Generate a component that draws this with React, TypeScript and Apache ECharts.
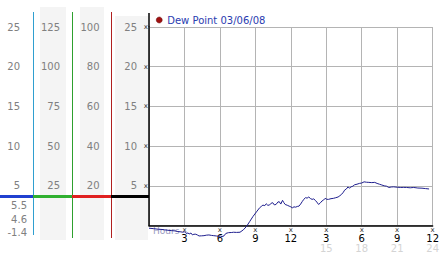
import React, { useEffect, useRef } from 'react';
import * as echarts from 'echarts';

const seriesName = 'Dew Point 03/06/08';

const hours = [
  0, 0.4, 0.78, 1.1, 1.33, 1.6, 1.88, 2.2, 2.44, 2.7, 2.85, 3.0, 3.13, 3.3, 3.4, 3.55, 3.68, 3.8, 3.96, 4.1,
  4.24, 4.45, 4.65, 4.85, 5.07, 5.3, 5.48, 5.7, 5.9, 6.05, 6.18, 6.35, 6.5, 6.73, 7.0, 7.15, 7.4, 7.7, 7.98, 8.25,
  8.53, 8.81, 9.09, 9.36, 9.5, 9.64, 9.8, 9.92, 10.05, 10.19, 10.33, 10.47, 10.6, 10.75, 10.9, 11.02, 11.15, 11.3, 11.4, 11.52,
  11.7, 11.86, 12.0, 12.13, 12.27, 12.41, 12.55, 12.69, 12.83, 12.96, 13.1, 13.24, 13.38, 13.52, 13.66, 13.8, 13.94, 14.07, 14.2, 14.35,
  14.5, 14.63, 14.77, 14.9, 15.05, 15.18, 15.4, 15.6, 15.8, 16.0, 16.15, 16.3, 16.45, 16.55, 16.7, 16.84, 16.95, 17.1, 17.25, 17.4,
  17.6, 17.8, 18.0, 18.2, 18.4, 18.6, 18.85, 19.1, 19.3, 19.5, 19.7, 19.9, 20.1, 20.3, 20.5, 20.7, 21.0, 21.3, 21.55, 21.8,
  22.1, 22.4, 22.75, 23.1, 23.4, 23.7,
];

const dewPoint = [
  -0.34, -0.4, -0.47, -0.5, -0.55, -0.6, -0.64, -0.68, -0.76, -0.8, -0.85, -0.78, -0.98, -0.95, -1.06, -0.95, -1.19, -1.1, -1.1, -1.2,
  -1.32, -1.3, -1.28, -1.22, -1.19, -1.25, -1.28, -1.32, -1.36, -1.33, -1.4, -1.3, -1.0, -0.9, -0.88, -0.85, -0.87, -0.85, -0.55, -0.12,
  0.52, 1.16, 1.71, 2.23, 2.4, 2.57, 2.5, 2.74, 2.55, 2.57, 2.8, 2.87, 2.6, 2.65, 2.95, 3.0, 2.7, 3.17, 2.9, 2.65,
  2.55, 2.44, 2.35, 2.23, 2.35, 2.31, 2.4, 2.44, 2.7, 3.0, 3.3, 3.5, 3.45, 3.59, 3.4, 3.29, 3.35, 3.17, 2.95, 2.65,
  2.85, 3.08, 3.2, 3.42, 3.3, 3.29, 3.38, 3.42, 3.5, 3.59, 3.75, 3.93, 4.2, 4.45, 4.6, 4.87, 4.7, 4.87, 4.95, 5.13,
  5.2, 5.3, 5.35, 5.5, 5.45, 5.43, 5.4, 5.43, 5.3, 5.2, 5.1, 5.0, 4.95, 4.79, 4.85, 4.87, 4.82, 4.79, 4.8, 4.79,
  4.75, 4.79, 4.72, 4.7, 4.65, 4.6,
];

// left-hand scale columns: multiplier of the plotted value
const scaleFactors = [1, 5, 4, 1];
const scaleOffsets = [129, 89, 49.5, 12];

const FONT = 'DejaVu Sans';

export default function App() {
  const ref = useRef<HTMLDivElement>(null);

  useEffect(() => {
    const chart = echarts.init(ref.current!, null, { renderer: 'svg' });
    const data = hours.map((h, i) => [h, dewPoint[i]]);
    const maxV = Math.max(...dewPoint);
    const minV = Math.min(...dewPoint);
    const lastV = dewPoint[dewPoint.length - 1];

    const baseY: any = {
      type: 'value', min: 0, max: 25, interval: 5, position: 'left',
      splitLine: { show: false }, axisTick: { show: false }, axisLine: { show: false },
    };
    const labelAxis = (offset: number, factor: number) => ({
      ...baseY,
      offset,
      axisLabel: {
        margin: 0, color: '#808080', fontFamily: FONT, fontSize: 10,
        formatter: (v: number) => (v === 0 ? '' : String(v * factor)),
      },
    });

    chart.setOption({
      animation: false,
      grid: { left: 149, right: 4, top: 27, bottom: 27 },
      legend: {
        left: 156, top: 15, padding: 0, itemWidth: 6, itemHeight: 6, icon: 'circle',
        data: [{ name: seriesName, icon: 'circle', itemStyle: { color: '#a01010', borderColor: '#600000', borderWidth: 0.5 } }],
        textStyle: { fontFamily: FONT, fontSize: 10, color: '#2a3cb0' },
      },
      xAxis: {
        type: 'value', min: 0, max: 24, interval: 3,
        axisLine: { lineStyle: { color: '#000', width: 1.5 } },
        axisTick: { show: false },
        splitLine: { lineStyle: { color: '#b4b4b4' } },
        axisLabel: {
          margin: 0,
          formatter: (v: number) => {
            if (v === 0) return '';
            const h12 = v % 12 === 0 ? 12 : v % 12;
            return v > 12 ? `{m|x}\n{a|${h12}}\n{b|${v}}` : `{m|x}\n{a|${h12}}`;
          },
          rich: {
            m: { fontSize: 7, lineHeight: 8, color: '#333', fontFamily: FONT },
            a: { fontSize: 10, lineHeight: 10, color: '#000', fontFamily: FONT },
            b: { fontSize: 10, lineHeight: 9, color: '#d4d4d4', fontFamily: FONT },
          },
        },
      },
      yAxis: [
        {
          ...baseY,
          axisLine: { show: true, lineStyle: { color: '#000', width: 1.5 } },
          splitLine: { show: true, lineStyle: { color: '#b4b4b4' } },
          axisLabel: {
            margin: 1, fontSize: 7, color: '#333', fontFamily: FONT,
            formatter: (v: number) => (v === 0 ? '' : 'x'),
          },
        },
        ...scaleFactors.map((f, i) => labelAxis(scaleOffsets[i], f)),
      ],
      series: [
        {
          type: 'line', name: seriesName, data, yAxisIndex: 0, xAxisIndex: 0,
          clip: false, symbol: 'none', z: 10,
          lineStyle: { color: '#1f1f8f', width: 1 },
          itemStyle: { color: '#a01010' },
        },
      ],
    });

    const [ax, ay0] = chart.convertToPixel({ gridIndex: 0 }, [0, 0]) as number[];
    const ayTop = (chart.convertToPixel({ gridIndex: 0 }, [0, 25]) as number[])[1];

    const vline = (x: number, y1: number, y2: number, color: string, w = 1) => ({
      type: 'line', shape: { x1: x, y1, x2: x, y2 }, style: { stroke: color, lineWidth: w }, z: 5, silent: true,
    });
    const hline = (x1: number, x2: number, y: number, color: string, w = 3) => ({
      type: 'line', shape: { x1, y1: y, x2, y2: y }, style: { stroke: color, lineWidth: w }, z: 6, silent: true,
    });
    const rect = (x: number, y: number, w: number, h: number) => ({
      type: 'rect', shape: { x, y, width: w, height: h }, style: { fill: '#f4f4f4' }, z: -1, silent: true,
    });
    const stat = (txt: string, y: number) => ({
      type: 'text', x: 27, y, style: { text: txt, fill: '#808080', font: `10px "${FONT}"`, align: 'right', verticalAlign: 'middle' }, z: 6,
    });

    chart.setOption({
      graphic: [
        rect(40, 7, 26, 233),
        rect(80, 7, 24, 233),
        rect(115, 16, 33, 224),
        vline(33.5, 12, 235, '#2f9fd0'),
        vline(72.5, 12, 238, '#2ea02e'),
        vline(111.5, 12, 238, '#b02020'),
        hline(0, 33, 196.5, '#2040d0'),
        hline(33, 72, 196.5, '#30b030'),
        hline(72, 111, 196.5, '#e02020'),
        hline(111, ax, 196.5, '#000000'),
        vline(ax, ayTop - 14, ayTop, '#000', 1.5),
        stat(maxV.toFixed(1), 205),
        stat(lastV.toFixed(1), 219),
        stat(minV.toFixed(1), 232),
        {
          type: 'text', x: ax + 4, y: ay0 + 5,
          style: { text: 'Hours', fill: '#9a9ac0', font: `9px "${FONT}"`, verticalAlign: 'middle' }, z: 4,
        },
      ],
    });

    return () => chart.dispose();
  }, []);

  return (
    <div
      ref={ref}
      style={{ position: 'fixed', left: 0, top: 0, width: 442, height: 253, background: '#fff' }}
    />
  );
}
